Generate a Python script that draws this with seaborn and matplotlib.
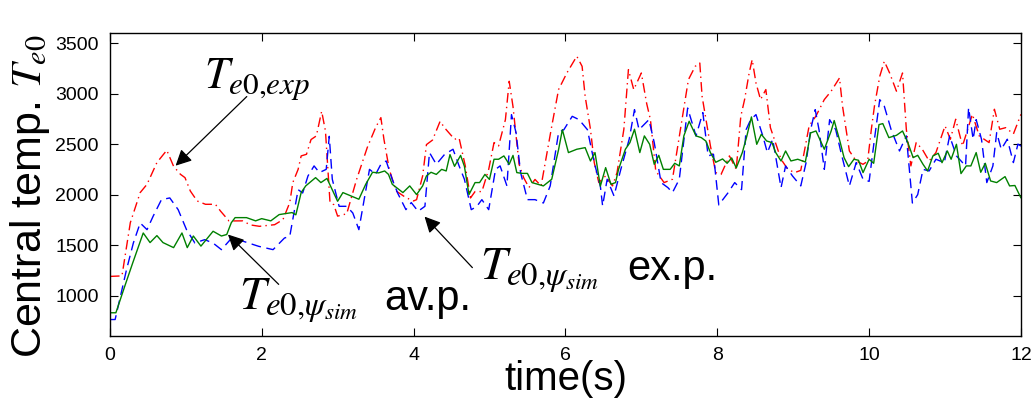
import numpy as np
import pandas as pd
import matplotlib
matplotlib.use("Agg")
import matplotlib.pyplot as plt
import seaborn as sns

#values
t_exp = [0.0, 0.16, 0.27, 0.4, 0.49, 0.62, 0.75, 0.84, 0.93, 0.99, 1.06, 1.15, 1.26, 1.39, 1.46, 1.57,
         1.75, 1.85, 1.97, 2.17, 2.28, 2.37, 2.41, 2.48, 2.52, 2.59, 2.65, 2.72, 2.79, 2.84, 2.9, 2.95,
         3.0, 3.12, 3.25, 3.39, 3.5, 3.57, 3.61, 3.68, 3.77, 3.9, 4.0, 4.04, 4.12, 4.17, 4.25, 4.35,
         4.41, 4.54, 4.6, 4.68, 4.75, 4.81, 4.9, 4.99, 5.06, 5.12, 5.21, 5.26, 5.31, 5.39, 5.45, 5.52,
         5.6, 5.68, 5.82, 5.91, 6.02, 6.15, 6.22, 6.26, 6.33, 6.38, 6.44, 6.53, 6.62, 6.68, 6.77, 6.83,
         6.9, 7.0, 7.07, 7.12, 7.19, 7.3, 7.41, 7.48, 7.55, 7.62, 7.71, 7.77, 7.8, 7.91, 7.98, 8.05,
         8.16, 8.25, 8.31, 8.36, 8.42, 8.46, 8.51, 8.57, 8.64, 8.7, 8.84, 8.93, 9.02, 9.1, 9.21, 9.3,
         9.41, 9.5, 9.61, 9.65, 9.74, 9.83, 9.92, 9.98, 10.03, 10.07, 10.14, 10.2, 10.27, 10.36, 10.44,
         10.49, 10.55, 10.62, 10.7, 10.79, 10.88, 11.0, 11.07, 11.14, 11.23, 11.36, 11.45, 11.58,
         11.65, 11.72, 11.8, 11.9, 12.0]
T_exp = [1190, 1195, 1722, 2020, 2102, 2317, 2439, 2280, 2201, 2168, 2036, 1937, 1904, 1904, 1835, 1739,
         1740, 1700, 1686, 1702, 1752, 1921, 2119, 2250, 2383, 2399, 2545, 2581, 2825, 2630, 1921, 1900,
         1787, 1810, 2150, 2465, 2663, 2762, 2548, 2250, 2036, 1970, 1937, 1950, 2185, 2495, 2540, 2726,
         2660, 2548, 2560, 2290, 1967, 2030, 2030, 2250, 2515, 2482, 2742, 3122, 2871, 2300, 2168, 2070,
         2150, 2086, 2676, 3040, 3205, 3370, 3270, 2974, 2647, 2317, 2119, 2185, 2086, 2218, 2647, 3237,
         3040, 3204, 2903, 2742, 2234, 2119, 2152, 2482, 2812, 3138, 3270, 3303, 2974, 2482, 2218, 2200,
         2383, 2250, 2775, 2941, 3204, 3336, 3105, 2941, 3040, 2663, 2350, 2250, 2218, 2240, 2680, 2778,
         2941, 3024, 3155, 2875, 2432, 2333, 2300, 2330, 2650, 2875, 3171, 3320, 3204, 3024, 3204,
         2647, 2284, 2515, 2449, 2333, 2416, 2680, 2548, 2746, 2482, 2795, 2581, 2515,
         2845, 2647, 2663, 2600, 2795]

t_ex = [0.0, 0.07, 0.16, 0.22, 0.31, 0.4, 0.49, 0.57, 0.68, 0.79, 0.9, 1.01, 1.12, 1.25, 1.36, 1.47,
        1.61, 1.75, 1.96, 2.15, 2.3, 2.37, 2.48, 2.54, 2.61, 2.69, 2.76, 2.85, 2.89, 2.93, 3.02, 3.12,
        3.2, 3.28, 3.35, 3.42, 3.5, 3.57, 3.64, 3.72, 3.79, 3.9, 3.97, 4.06, 4.15, 4.21, 4.3, 4.41,
        4.52, 4.6, 4.67, 4.76, 4.83, 4.9, 4.99, 5.08, 5.14, 5.23, 5.29, 5.35, 5.41, 5.5, 5.6, 5.71,
        5.8, 5.91, 5.98, 6.09, 6.18, 6.29, 6.38, 6.46, 6.49, 6.55, 6.64, 6.73, 6.84, 6.91, 6.97, 7.1,
        7.17, 7.26, 7.35, 7.41, 7.5, 7.61, 7.72, 7.81, 7.88, 7.95, 8.02, 8.14, 8.23, 8.32, 8.38, 8.44,
        8.51, 8.6, 8.66, 8.73, 8.84, 8.9, 8.99, 9.1, 9.17, 9.23, 9.29, 9.34, 9.41, 9.48, 9.56, 9.63,
        9.74, 9.83, 9.92, 10.0, 10.07, 10.14, 10.2, 10.29, 10.4, 10.49, 10.57, 10.64, 10.71, 10.79,
        10.88, 10.99, 11.06, 11.15, 11.27, 11.31, 11.37, 11.41, 11.48, 11.55, 11.63, 11.68, 11.74,
        11.82, 11.9, 11.96, 12.0]
T_ex = [763, 763, 1060, 1257, 1521, 1719, 1653, 1785, 1950, 1967, 1851, 1653, 1521, 1554, 1520, 1455,
        1574, 1540, 1488, 1455, 1570, 1587, 2049, 2016, 2185, 2284, 2218, 2250, 2577, 2152, 1884, 1884,
        1818, 1653, 1950, 2250, 2200, 2300, 2333, 2150, 2016, 1851, 1921, 1835, 1884, 2416, 2300, 2399,
        2449, 2284, 2152, 1851, 1880, 1950, 1851, 2250, 2284, 2086, 2792, 2614, 2218, 1950, 1950, 1917,
        2086, 2614, 2643, 2775, 2742, 2643, 2317, 2086, 1888, 2152, 1987, 2250, 2548, 2841, 2643, 2742,
        2515, 2119, 2069, 2020, 2152, 2857, 2581, 2812, 2383, 2400, 1898, 2016, 2119, 2049, 2643, 2742,
        2792, 2581, 2416, 2548, 2069, 2284, 2185, 2086, 2317, 2643, 2841, 2643, 2250, 2742, 2643, 2416,
        2086, 2317, 2152, 2131, 2548, 2940, 2875, 2643, 2432, 2581, 1917, 2000, 2250, 2234,
        2350, 2316, 2581, 2383, 2284, 2860, 2548, 2742, 2548, 2119, 2284, 2614, 2449,
        2548, 2317, 2500, 2480]

t_av = [0.0, 0.08, 0.2, 0.3, 0.44, 0.53, 0.62, 0.7, 0.84, 0.95, 1.02, 1.1, 1.2, 1.36, 1.47, 1.54,
        1.6, 1.65, 1.8, 1.92, 2.0, 2.12, 2.23, 2.4, 2.45, 2.52, 2.58, 2.71, 2.78, 2.86, 3.0, 3.07,
        3.28, 3.37, 3.46, 3.54, 3.62, 3.67, 3.72, 3.86, 3.95, 4.04, 4.12, 4.17, 4.23, 4.3, 4.37, 4.43,
        4.48, 4.54, 4.62, 4.67, 4.73, 4.81, 4.87, 4.94, 5.0, 5.06, 5.12, 5.19, 5.26, 5.31, 5.36, 5.43,
        5.5, 5.56, 5.71, 5.82, 5.91, 5.96, 6.04, 6.15, 6.26, 6.33, 6.39, 6.46, 6.53, 6.6, 6.66, 6.7,
        6.79, 6.85, 6.91, 6.98, 7.04, 7.11, 7.17, 7.23, 7.29, 7.38, 7.44, 7.5, 7.56, 7.63, 7.72, 7.79,
        7.85, 7.91, 7.98, 8.07, 8.13, 8.19, 8.25, 8.33, 8.39, 8.45, 8.52, 8.58, 8.65, 8.72, 8.77, 8.84,
        8.9, 8.97, 9.06, 9.16, 9.23, 9.3, 9.41, 9.5, 9.54, 9.62, 9.67, 9.73, 9.8, 9.86, 9.92, 10.0,
        10.06, 10.13, 10.18, 10.26, 10.36, 10.44, 10.51, 10.58, 10.64, 10.71, 10.77, 10.84, 10.91,
        10.96, 11.03, 11.08, 11.15, 11.21, 11.28, 11.34, 11.41, 11.47, 11.53, 11.6, 11.68, 11.79,
        11.85, 11.92, 12.0]
T_av = [830, 830, 1100, 1320, 1620, 1525, 1594, 1525, 1475, 1620, 1475, 1590, 1490, 1637, 1590, 1605,
        1722, 1772, 1772, 1740, 1762, 1740, 1802, 1822, 1800, 2020, 2086, 2168, 2119, 2160, 1934, 2020,
        1954, 2102, 2221, 2215, 2234, 2200, 2102, 2020, 2086, 2000, 2086, 2185, 2221, 2200, 2250, 2234,
        2396, 2280, 2388, 2280, 2000, 2119, 2119, 2200, 2150, 2350, 2350, 2383, 2300, 2388, 2218, 2210,
        2210, 2119, 2086, 2152, 2445, 2643, 2416, 2449, 2465, 2333, 2416, 2083, 2267, 2102, 2119, 2250,
        2449, 2515, 2647, 2416, 2581, 2498, 2300, 2389, 2250, 2250, 2310, 2284, 2581, 2726, 2581, 2564,
        2530, 2416, 2320, 2353, 2310, 2363, 2264, 2416, 2581, 2769, 2498, 2597, 2531, 2515, 2416, 2333,
        2432, 2333, 2350, 2323, 2611, 2630, 2449, 2630, 2733, 2515, 2366, 2277, 2350, 2340, 2218, 2350,
        2310, 2693, 2703, 2564, 2587, 2630, 2515, 2366, 2389, 2300, 2234, 2383, 2409,
        2316, 2432, 2350, 2498, 2208, 2284, 2284, 2416, 2221, 2310, 2135, 2119, 2178,
        2086, 2090, 1967]

x_ticks = [0, 2, 4, 6, 8, 10, 12]
y_ticks = [1000, 1500, 2000, 2500, 3000, 3500]

#style
sns.set_style("ticks")
plt.rcParams['font.family'] = ['Liberation Sans', 'DejaVu Sans']
plt.rcParams['mathtext.fontset'] = 'stix'
for key in ['text.color', 'axes.labelcolor', 'xtick.color', 'ytick.color', 'axes.edgecolor']:
    plt.rcParams[key] = 'black'

fig, ax = plt.subplots(figsize=(10.36, 4.0), dpi=100)
fig.subplots_adjust(left=0.106, right=0.9855, top=0.9175, bottom=0.16)

sns.lineplot(x=t_exp, y=T_exp, ax=ax, color='red', linewidth=1.0, linestyle=(0, (7, 3, 1, 3)))
sns.lineplot(x=t_ex, y=T_ex, ax=ax, color='blue', linewidth=1.0, linestyle=(0, (7, 4)))
sns.lineplot(x=t_av, y=T_av, ax=ax, color='green', linewidth=1.0)

ax.set_xlim(0, 12)
ax.set_ylim(600, 3600)
ax.set_xticks(x_ticks)
ax.set_yticks(y_ticks)
ax.tick_params(direction='in', length=6, width=0.8, labelsize=14, pad=8,
               top=True, right=True, colors='black')
for s in ax.spines.values():
    s.set_linewidth(1.0)
    s.set_color('black')

ax.set_xlabel('time(s)', fontsize=29, labelpad=-3)
ax.set_ylabel('Central temp. $T_{e0}$', fontsize=31)
ax.yaxis.set_label_coords(-0.064, 0.46)

#annotations
arrow = dict(arrowstyle='-|>', color='black', lw=0.9, mutation_scale=24)
ax.annotate('', xy=(0.84, 2267), xytext=(1.83, 2990), arrowprops=arrow)
ax.annotate('', xy=(1.53, 1624), xytext=(2.25, 1092), arrowprops=arrow)
ax.annotate('', xy=(4.12, 1802), xytext=(4.8, 1257), arrowprops=arrow)

ax.text(1.24, 3059, '$T_{e0{,}exp}$', fontsize=32, ha='left', va='baseline')
ax.text(1.70, 861, r'$T_{e0{,}\psi_{sim}}$', fontsize=34, ha='left', va='baseline')
ax.text(3.61, 861, 'av.p.', fontsize=30, ha='left', va='baseline')
ax.text(4.88, 1158, r'$T_{e0{,}\psi_{sim}}$', fontsize=34, ha='left', va='baseline')
ax.text(6.81, 1158, 'ex.p.', fontsize=30, ha='left', va='baseline')

plt.savefig('out.png', dpi=100)
